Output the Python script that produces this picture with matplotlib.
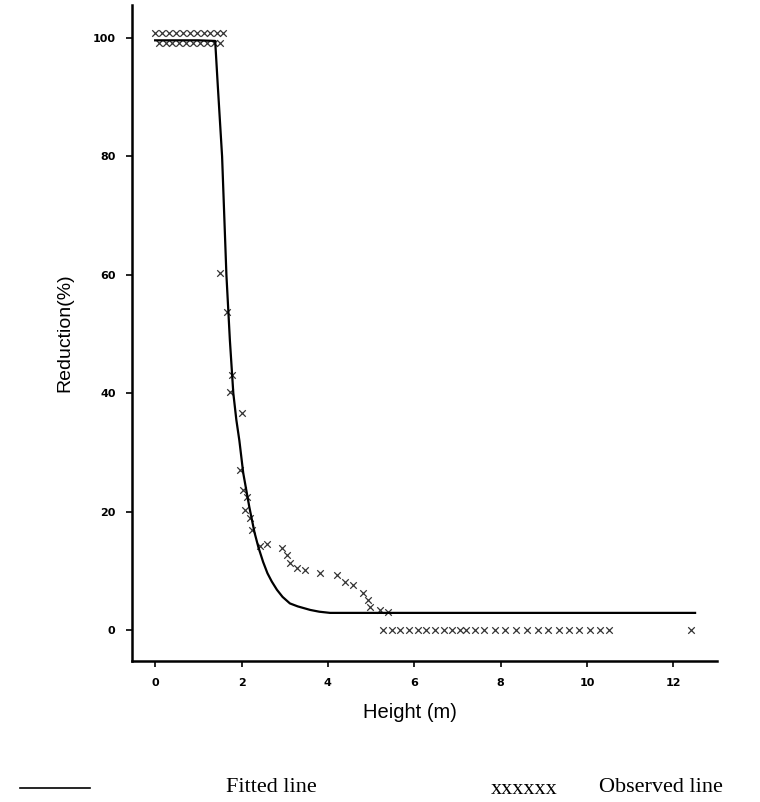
import matplotlib.pyplot as plt
from matplotlib.lines import Line2D

# Fitted curve
fit_x = [0.0, 0.5, 1.0, 1.39, 1.45, 1.55, 1.65, 1.73, 1.81, 1.88, 1.95, 2.04, 2.18, 2.3, 2.39,
         2.5, 2.6, 2.7, 2.82, 2.95, 3.12, 3.3, 3.59, 3.8, 4.05, 6.0, 8.0, 10.0, 12.5]
fit_y = [99.6, 99.6, 99.6, 99.5, 92.0, 80.0, 60.0, 49.0, 40.0, 35.5, 32.0, 26.5, 20.8, 16.5, 14.0,
         11.5, 9.6, 8.2, 6.8, 5.6, 4.5, 4.0, 3.4, 3.1, 2.9, 2.9, 2.9, 2.9, 2.9]

# Observed points
obs_top_x = [0.0, 0.16, 0.32, 0.48, 0.64, 0.8, 0.96, 1.12, 1.28, 1.44, 1.56,
             0.08, 0.24, 0.4, 0.56, 0.72, 0.88, 1.04, 1.2, 1.36, 1.5]
obs_top_y = [100.8] * 11 + [99.2] * 10

obs_mid_x = [1.5, 1.67, 1.78, 1.74, 2.01, 1.97, 2.04, 2.12, 2.08, 2.2, 2.24, 2.43, 2.6,
             2.94, 3.05, 3.12, 3.28, 3.47, 3.82, 4.2, 4.4, 4.58, 4.81, 4.93, 4.98, 5.2, 5.39]
obs_mid_y = [60.3, 53.7, 43.0, 40.2, 36.6, 27.0, 23.6, 22.5, 20.3, 19.0, 16.9, 14.2, 14.5,
             13.8, 12.7, 11.3, 10.5, 10.1, 9.6, 9.3, 8.1, 7.6, 6.2, 5.1, 3.9, 3.4, 3.0]

obs_zero_x = [5.28, 5.48, 5.68, 5.88, 6.08, 6.28, 6.48, 6.68, 6.88, 7.05, 7.2,
              7.4, 7.62, 7.86, 8.1, 8.36, 8.62, 8.86, 9.1, 9.34, 9.58,
              9.82, 10.06, 10.3, 10.5, 12.4]
obs_zero_y = [0.0] * 26

fig = plt.figure(figsize=(7.6, 8.02), dpi=100)
ax = fig.add_axes([0.174, 0.176, 0.769, 0.818])

ax.plot(fit_x, fit_y, color='black', linewidth=1.6)
ax.scatter(obs_top_x + obs_mid_x + obs_zero_x, obs_top_y + obs_mid_y + obs_zero_y,
           marker='x', s=22, color='#333333', linewidths=0.9)

ax.set_xlim(-0.53, 13.0)
ax.set_ylim(-5.2, 105.6)
ax.set_xticks([0, 2, 4, 6, 8, 10, 12])
ax.set_yticks([0, 20, 40, 60, 80, 100])
ax.tick_params(labelsize=8, width=1.2, length=4, pad=8)
for lab in ax.get_xticklabels() + ax.get_yticklabels():
    lab.set_fontweight('bold')
for side in ['top', 'right']:
    ax.spines[side].set_visible(False)
for side in ['left', 'bottom']:
    ax.spines[side].set_linewidth(1.8)

ax.set_ylabel("Reduction(%)", fontsize=14, family='Liberation Sans', labelpad=14)
fig.text(0.54, 0.112, "Height (m)", fontsize=14.5, family='Liberation Sans', ha='center', va='center')

# legend drawn below the axes
fig.add_artist(Line2D([0.026, 0.118], [0.018, 0.018], color='black', linewidth=1.2))
fig.text(0.357, 0.018, "Fitted line", fontsize=16, family='Liberation Serif', ha='center', va='center')
fig.text(0.69, 0.016, "xxxxxx", fontsize=16, family='Liberation Serif', ha='center', va='center')
fig.text(0.788, 0.018, "Observed line", fontsize=16, family='Liberation Serif', ha='left', va='center')

fig.savefig("out.png", dpi=100)
